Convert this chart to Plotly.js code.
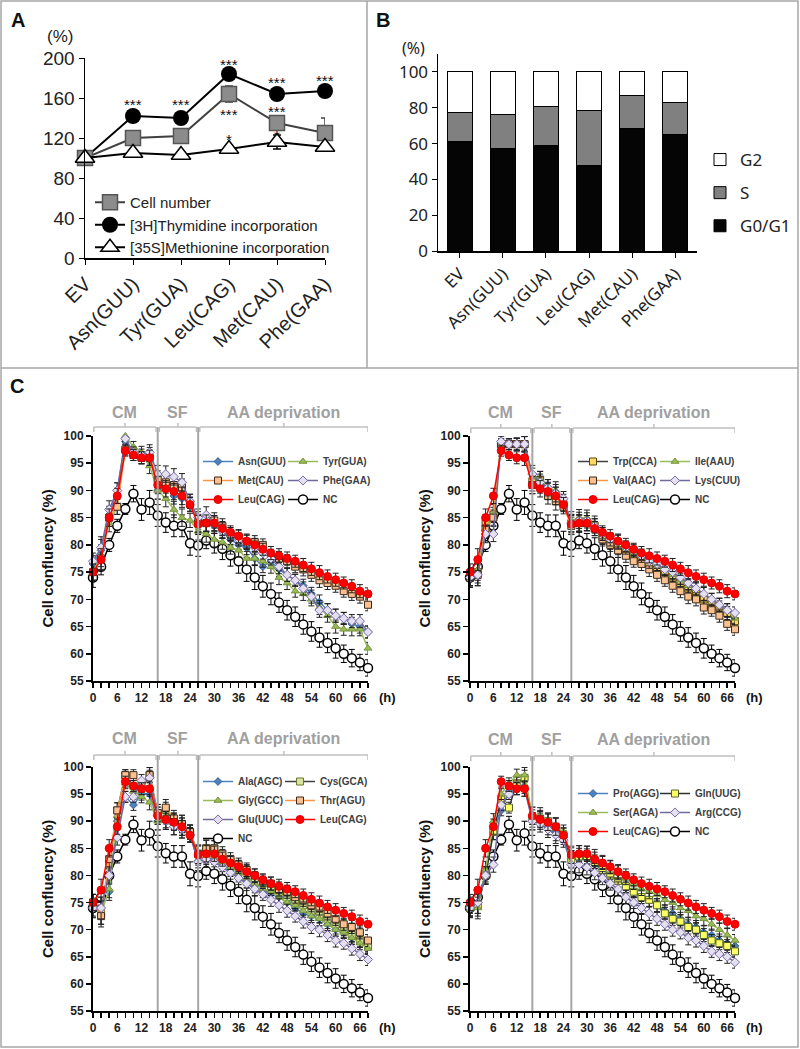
<!DOCTYPE html>
<html><head><meta charset="utf-8">
<script src="https://cdn.plot.ly/plotly-3.0.1.min.js"></script>
<style>html,body{margin:0;padding:0;background:#fff}#chart{width:800px;height:1049px}</style>
</head><body><div id="chart"></div>
<script>
// ---------- Panel A data ----------
const catsA = ['EV','Asn(GUU)','Tyr(GUA)','Leu(CAG)','Met(CAU)','Phe(GAA)'];
const cellNumber = [100,120,122,164,135,125];
const cellErr    = [2,4,3,8,4,15];
const thymidine  = [100,142,140,184,164,167];
const thyErr     = [2,3,3,3,3,3];
const methionine = [100,105,103,109,116,111];
const metErr     = [2,3,2,3,7,3];
const starX = ['Asn(GUU)','Tyr(GUA)','Leu(CAG)','Leu(CAG)','Leu(CAG)','Met(CAU)','Met(CAU)','Met(CAU)','Phe(GAA)'];
const starY = [154,154,194,144,119,176,147,123,178];
const starText = ['***','***','***','***','*','***','***','*','***'];

// ---------- Panel B data ----------
const catsB = ['EV','Asn(GUU)','Tyr(GUA)','Leu(CAG)','Met(CAU)','Phe(GAA)'];
const g0g1   = [61,57.5,59,48,68.5,65];
const sPhase = [16.5,19,21.5,30.5,18.5,18];
const g2     = [22.5,23.5,19.5,21.5,13,17];

// ---------- Panel C data ----------
const hours = [0,2,4,6,8,10,12,14,16,18,20,22,24,26,28,30,32,34,36,38,40,42,44,46,48,50,52,54,56,58,60,62,64,66,68];
const NC  = [74,76,80,83.5,86.6,89.4,86.5,87.8,85.4,84.1,83.5,83.5,80.3,79.9,80.8,80.3,79.3,78.1,77.0,75.5,74.0,72.4,71.0,69.4,68.0,66.8,65.4,64.1,63.0,62.0,61.0,60.0,59.2,58.4,57.4];
const ncErr = [1.8,1.5,1.2,1.2,1.0,1.5,2.0,2.2,2.0,1.8,2.0,2.0,2.2,2.0,1.5,1.8,2.0,2.0,2.2,2.2,2.2,2.0,2.0,1.8,1.8,1.8,1.8,1.8,1.8,1.8,1.8,1.6,1.6,1.5,1.5];
const Leu = [75,77.3,85,89,97.3,96.5,96,96,91,90.3,89.8,89,87.4,83.8,84,84,83,82.3,81.6,80.7,80,79.2,78.5,78,77.5,77,76.3,75.6,74.9,74.2,73.6,73,72.4,71.5,71.0];
const trtErr = [1.5,2.0,1.6,1.4,1.0,1.0,1.1,1.4,1.6,1.5,1.5,1.6,1.3,1.6,1.5,1.4,1.3,1.2,1.2,1.3,1.2,1.1,1.2,1.3,1.2,1.1,1.2,1.2,1.3,1.2,1.2,1.1,1.2,1.2,1.1];
// C1
const Asn = [76.5,79,85.5,90,99,97,96,96.5,90,91,89,88.5,88,84.5,84,83.5,82.5,81,80,79.5,77.5,76,77,75.5,74.5,73.5,72.5,71,69.5,68,67,66.5,65.5,65,64];
const Tyr = [75,78,84,87,100,98,97,94.5,90,88.5,86.5,85,84.5,82.5,82,81,80.5,79.5,79,77.5,77.5,77,76,74,73,71.5,71,70,68.5,67,65,64.5,64.5,64.5,61];
const Phe = [77,79.5,86.5,90,99.5,97,96.5,97,93,93,92.5,91.5,88,85,85.5,84,82.5,82,81,80.5,79.5,78.5,77.5,76,74.5,73.5,72,70.5,68,68,67,66.5,66,66,64];
const Met = [75,77.5,85,87,97.5,96.5,96,96,92,91.5,91,90.5,87.5,84,84,84.5,83.5,82,81.5,80.5,80.5,80,78,77.5,77,76,75.5,74.5,73.5,73,72.5,71.5,71,70.5,69];
// C2
const Trp = [74,75,84,85.5,98.5,98.5,98.5,98.5,91.5,92,90,89,87.5,84,84,84,83.5,81.5,80.5,79.5,79,78,77.5,76.5,75.5,75,74,73,72,71,70,69,68.5,67.5,66];
const Val = [74,74.5,83,85,98.5,98.5,98.5,98.5,91,91,89,88,87,83.5,84,84,83,81,80,79,78,77,76.5,75.5,74.5,73.5,72.5,71.5,70.5,70,68.5,68,67,65.5,64.5];
const Ile = [74,75.5,83,86,99,98.5,98.5,98.5,92.5,92,90.5,90,88,84.5,85,85,84,82,81,80.5,79.5,78.5,78,77,76,75.5,74.5,73.5,72.5,72,71,70,69,68,66.5];
const Lys = [74,74.5,82,82,99,98.5,98.5,98.5,93,91.5,90.5,89.5,88.5,84,84.5,84.5,83.5,82,81,80.5,79.5,79,78,77,76.5,75.5,75,74,73,72,71,70,69,68,67.5];
// C3
const Ala = [75,74,77,90,94.5,93,95,95,90,90,89,88.5,87.5,82.5,83,83,82,81,80,79,78,77,76.5,76,75,74,73,72.5,72,71,70,69.5,68.5,68,67];
const Gly = [75,73,77.5,91,97,95.5,94.5,93.5,90,91,90,89,88,83,83.5,83.5,82.5,81.5,80.5,79.5,78.5,77.5,77,76,75,74.5,73.5,72.5,72,71,70,69.5,68.5,67.5,66.5];
const Glu = [74,74,80,87,94.5,94.5,97.5,98,91,90,89,88.5,87.5,82.5,83,82.5,81.5,80.5,79.5,78.5,77.5,76.5,75.5,74.5,73.5,72.5,71.5,70.5,70,69,68,67.5,66.5,65.5,64.5];
const Cys = [75,73,82,92,98.5,96.5,96,98.5,91.5,92,90,89.5,88,84,85,85,83.5,82.5,81.5,80.5,79.5,78.5,77.5,77,76,75,74.5,73.5,72.5,72,71,70,69,68,67];
const Thr = [75,72.5,83,92,98.5,98.5,96.5,98.5,91.5,92.5,90.5,89.5,88,84,85,85,84,83,82,81,80,79,78.5,77.5,77,76,75.5,74.5,74,73,72,71,70.5,69.5,68];
// C4
const Pro = [74,75,80,88,92,95.5,96,96.5,90,90,89,88,87,83,83,83,82,81,80,79,78,77,76,75.5,74.5,73.5,73,72,71,70.5,69.5,69,68,67.5,67];
const Ser = [74.5,74,81,90,95,97,98.5,98.5,91,91,90,89,88,83.5,84,84,83.5,82.5,81.5,80.5,79.5,78.5,77.5,77,76.5,75.5,75,74,73.5,72.5,72,71,70,69,68];
const Gln = [74,74.5,80,88,94,92.5,97,98,90.5,90.5,90,89,87.5,83,83.5,83.5,82.5,81,80,79,78,77,76,75.5,74.5,73,72,71.5,70.5,70,69,68,67.5,67,66];
const Arg = [74,75,80,82,93,95,96,96,90,89.5,88.5,87.5,86.5,82,82,81.5,80.5,79.5,78.5,77.5,76,75,74,73,72,71,70,69.5,68.5,68,67,66,65.5,65,64];
const phaseNames = ['CM','SF','AA deprivation'];

// ---------- layout helpers ----------
const W = 800, H = 1049;
const px = x => x / W, py = y => 1 - y / H;
const FA = 'Liberation Sans, Arial, sans-serif';
const FB = 'Noto Sans, Open Sans, sans-serif';

const traces = [];
// Panel A
traces.push({type:'scatter',mode:'lines+markers',x:catsA,y:thymidine,name:'[3H]Thymidine incorporation',
  xaxis:'x',yaxis:'y',legend:'legend',legendrank:2,cliponaxis:false,
  line:{color:'#000',width:2},marker:{symbol:'circle',size:16,color:'#000'},
  error_y:{type:'data',array:thyErr,color:'#000',thickness:1.5,width:4}});
traces.push({type:'scatter',mode:'lines+markers',x:catsA,y:cellNumber,name:'Cell number',
  xaxis:'x',yaxis:'y',legend:'legend',legendrank:1,cliponaxis:false,
  line:{color:'#404040',width:2},marker:{symbol:'square',size:15,color:'#8c8c8c',line:{color:'#555',width:1.5}},
  error_y:{type:'data',array:cellErr,color:'#404040',thickness:1.5,width:4}});
traces.push({type:'scatter',mode:'lines+markers',x:catsA,y:methionine,name:'[35S]Methionine incorporation',
  xaxis:'x',yaxis:'y',legend:'legend',legendrank:3,cliponaxis:false,
  line:{color:'#000',width:2},marker:{symbol:'triangle-up',size:17,color:'#fff',line:{color:'#000',width:1.5}},
  error_y:{type:'data',array:metErr,color:'#000',thickness:1.5,width:4}});

// Panel B (legendrank puts G2 on top, G0/G1 at bottom)
[[g0g1,'G0/G1','#050505','gA',3],[sPhase,'S','#808080','gB',2],[g2,'G2','#ffffff','gC',1]].forEach(([v,n,c,g,r])=>{
  traces.push({type:'bar',x:catsB,y:v,name:n,xaxis:'x2',yaxis:'y2',legend:'legend2',legendgroup:g,legendrank:r,
    marker:{color:c,line:{color:'#000',width:1}}});
});

// Panel C styles
const STY = {
  blue:  {line:'#4f81bd', marker:{symbol:'diamond',size:6,color:'#4f81bd',line:{color:'#3a6496',width:1}}},
  green: {line:'#9bbb59', marker:{symbol:'triangle-up',size:7,color:'#9bbb59',line:{color:'#77933c',width:1}}},
  purple:{line:'#6f6a9e', marker:{symbol:'diamond',size:7,color:'#e4e0f0',line:{color:'#7a6aa8',width:1}}},
  orange:{line:'#f79646', marker:{symbol:'square',size:7,color:'#fac090',line:{color:'#3b2a1a',width:1}}},
  darkY: {line:'#404040', marker:{symbol:'square',size:7,color:'#ffd966',line:{color:'#5a4a10',width:1}}},
  darkG: {line:'#404040', marker:{symbol:'square',size:7,color:'#d8e4a0',line:{color:'#6b7a2a',width:1}}},
  darkL: {line:'#303030', marker:{symbol:'square',size:7,color:'#ffff66',line:{color:'#4f6228',width:1}}},
  red:   {line:'#ff0000', marker:{symbol:'circle',size:8,color:'#ff0000',line:{color:'#e00000',width:1}}},
  nc:    {line:'#000000', marker:{symbol:'circle',size:9,color:'#ffffff',line:{color:'#000',width:1.5}}}
};

function addSeries(xa, ya, lg, rank, name, y, sty, err) {
  const s = STY[sty];
  traces.push({type:'scatter',mode:'lines+markers',x:hours,y:y,name:name,xaxis:xa,yaxis:ya,
    legend:lg,legendrank:rank,cliponaxis:false,
    line:{color:s.line,width:1.5},marker:s.marker,
    error_y:{type:'data',array:err,color:sty==='nc'?'#000':'#222',thickness:1,width:3}});
}
const panels = [
  ['x3','y3','legend3','legend4',[['Asn(GUU)',Asn,'blue',1,1],['Tyr(GUA)',Tyr,'green',2,1],['Met(CAU)',Met,'orange',1,2],['Phe(GAA)',Phe,'purple',2,2]], 1, 2],
  ['x4','y4','legend5','legend6',[['Trp(CCA)',Trp,'darkY',1,1],['Ile(AAU)',Ile,'green',2,1],['Val(AAC)',Val,'orange',1,2],['Lys(CUU)',Lys,'purple',2,2]], 1, 2],
  ['x5','y5','legend7','legend8',[['Ala(AGC)',Ala,'blue',1,1],['Cys(GCA)',Cys,'darkG',2,1],['Gly(GCC)',Gly,'green',1,2],['Thr(AGU)',Thr,'orange',2,2],['Glu(UUC)',Glu,'purple',1,3]], 2, 1],
  ['x6','y6','legend9','legend10',[['Pro(AGG)',Pro,'blue',1,1],['Gln(UUG)',Gln,'darkL',2,1],['Ser(AGA)',Ser,'green',1,2],['Arg(CCG)',Arg,'purple',2,2]], 1, 2]
];
panels.forEach(([xa,ya,l1,l2,list,leuCol,ncCol])=>{
  addSeries(xa,ya,ncCol===1?l1:l2,ncCol===1?4:3,'NC',NC,'nc',ncErr);
  list.forEach(([n,d,s,c,r])=>addSeries(xa,ya,c===1?l1:l2,r,n,d,s,trtErr));
  addSeries(xa,ya,leuCol===1?l1:l2,3,'Leu(CAG)',Leu,'red',trtErr);
});

// ---------- axes ----------
const layout = {
  width:W,height:H,autosize:false,margin:{l:0,r:0,t:0,b:0},
  paper_bgcolor:'#fff',plot_bgcolor:'rgba(0,0,0,0)',
  barmode:'stack',bargap:0.42,showlegend:true,
  font:{family:FA,color:'#222'},
  shapes:[],annotations:[]
};
const baseAx = {showgrid:false,zeroline:false,showline:true,linecolor:'#000',fixedrange:true};
layout.xaxis = Object.assign({},baseAx,{domain:[px(85),px(325)],anchor:'y',type:'category',categoryarray:catsA,
  range:[0,5],ticks:'outside',ticklen:5,tickcolor:'#000',tickangle:-45,linewidth:1.5,
  tickfont:{family:FA,size:20,color:'#222'}});
layout.yaxis = Object.assign({},baseAx,{domain:[py(258),py(58)],anchor:'x',range:[0,200],dtick:40,
  ticks:'outside',ticklen:5,tickcolor:'#000',linewidth:1.5,tickfont:{family:FA,size:19,color:'#222'}});
layout.xaxis2 = Object.assign({},baseAx,{domain:[px(438),px(697)],anchor:'y2',type:'category',categoryarray:catsB,
  range:[-0.5,5.5],ticks:'outside',ticklen:5,tickcolor:'#000',tickangle:-45,linewidth:1.5,
  tickfont:{family:FB,size:17,color:'#222'}});
layout.yaxis2 = Object.assign({},baseAx,{domain:[py(251),py(54)],anchor:'x2',range:[0,110],dtick:20,
  ticks:'outside',ticklen:5,tickcolor:'#000',linewidth:1.5,tickfont:{family:FB,size:17,color:'#222'}});

const cGeom = [
  {xa:'x3',ya:'y3',x0:93,x1:368,yTop:436,yBot:681,br:427,txt:412},
  {xa:'x4',ya:'y4',x0:470,x1:735,yTop:436,yBot:681,br:428,txt:412},
  {xa:'x5',ya:'y5',x0:93,x1:368,yTop:767,yBot:1011,br:755,txt:738},
  {xa:'x6',ya:'y6',x0:470,x1:735,yTop:767,yBot:1011,br:756,txt:739}
];
cGeom.forEach(g=>{
  const xk = 'xaxis'+g.xa.slice(1), yk = 'yaxis'+g.ya.slice(1);
  layout[xk] = Object.assign({},baseAx,{domain:[px(g.x0),px(g.x1)],anchor:g.ya,range:[0,68],tick0:0,dtick:6,
    ticks:'outside',ticklen:5,tickwidth:1.5,tickcolor:'#000',linewidth:2,
    minor:{dtick:2,ticks:'outside',ticklen:5,tickcolor:'#000',tickwidth:1.5},
    tickfont:{family:FA,size:12,color:'#222',weight:'bold'}});
  layout[yk] = Object.assign({},baseAx,{domain:[py(g.yBot),py(g.yTop)],anchor:g.xa,range:[55,100],dtick:5,
    ticks:'outside',ticklen:5,tickwidth:1.5,tickcolor:'#000',linewidth:2,
    tickfont:{family:FA,size:12,color:'#222',weight:'bold'}});
  const h = g.yBot - g.yTop;
  const dom = p => (g.yBot - p) / h;
  const yr = g.ya + ' domain';
  [16,26].forEach(t=>layout.shapes.push({type:'line',xref:g.xa,yref:yr,x0:t,x1:t,y0:0,y1:dom(g.br),
    line:{color:'#a6a6a6',width:2}}));
  [[0.2,15.6],[16.4,25.6],[26.4,68]].forEach(([a,b],i)=>{
    const L = {color:'#bfbfbf',width:1.5};
    layout.shapes.push({type:'line',xref:g.xa,yref:yr,x0:a,x1:b,y0:dom(g.br),y1:dom(g.br),line:L});
    layout.shapes.push({type:'line',xref:g.xa,yref:yr,x0:a,x1:a,y0:dom(g.br),y1:dom(g.br+5),line:L});
    layout.shapes.push({type:'line',xref:g.xa,yref:yr,x0:b,x1:b,y0:dom(g.br),y1:dom(g.br+5),line:L});
    layout.shapes.push({type:'line',xref:g.xa,yref:yr,x0:(a+b)/2,x1:(a+b)/2,y0:dom(g.br),y1:dom(g.br-4),line:L});
    layout.annotations.push({xref:g.xa,yref:'paper',x:(a+b)/2,y:py(g.txt),text:phaseNames[i],showarrow:false,
      xanchor:'center',yanchor:'middle',font:{family:FA,size:16,color:'#a0a0a0',weight:'bold'}});
  });
  layout.annotations.push({xref:'paper',yref:'paper',x:px(g.x0-46),y:py((g.yTop+g.yBot)/2),text:'Cell confluency (%)',
    textangle:-90,showarrow:false,xanchor:'center',yanchor:'middle',font:{family:FA,size:15,color:'#111',weight:'bold'}});
  layout.annotations.push({xref:'paper',yref:'paper',x:px(g.x1+19),y:py(g.yBot+16),text:'(h)',showarrow:false,
    xanchor:'center',yanchor:'middle',font:{family:FA,size:13,color:'#111',weight:'bold'}});
});

// ---------- legends ----------
const noBg = {bgcolor:'rgba(0,0,0,0)',borderwidth:0,xanchor:'left',yanchor:'top',itemclick:false,itemdoubleclick:false};
layout.legend = Object.assign({},noBg,{x:px(90),y:py(186),font:{family:FA,size:15,color:'#222'},tracegroupgap:0});
layout.legend2 = Object.assign({},noBg,{x:px(700),y:py(142),traceorder:'grouped',tracegroupgap:8,
  font:{family:FB,size:17,color:'#222'}});
const cLegFont = {family:FA,size:10,color:'#404040',weight:'bold'};
const cLeg = [[198,283,447],[573,655,447],[198,280,767],[573,655,779]];
cLeg.forEach(([a,b,t],i)=>{
  layout['legend'+(3+2*i)] = Object.assign({},noBg,{x:px(a),y:py(t),font:cLegFont,tracegroupgap:0,itemwidth:30});
  layout['legend'+(4+2*i)] = Object.assign({},noBg,{x:px(b),y:py(t),font:cLegFont,tracegroupgap:0,itemwidth:30});
});

// ---------- frame & labels ----------
const FR = {color:'#a6a6a6',width:1.5};
layout.shapes.push({type:'rect',xref:'paper',yref:'paper',x0:px(1),x1:px(798),y0:py(1047),y1:py(1),line:FR});
layout.shapes.push({type:'line',xref:'paper',yref:'paper',x0:px(367),x1:px(367),y0:py(368),y1:py(1),line:FR});
layout.shapes.push({type:'line',xref:'paper',yref:'paper',x0:px(1),x1:px(798),y0:py(368),y1:py(368),line:FR});
[['A',18,20],['B',383,20],['C',17,386]].forEach(([t,x,y])=>layout.annotations.push({xref:'paper',yref:'paper',
  x:px(x),y:py(y),text:t,showarrow:false,xanchor:'center',yanchor:'middle',font:{family:FA,size:20,color:'#111',weight:'bold'}}));
layout.annotations.push({xref:'paper',yref:'paper',x:px(60),y:py(37),text:'(%)',showarrow:false,
  xanchor:'center',yanchor:'middle',font:{family:FA,size:17,color:'#222'}});
layout.annotations.push({xref:'paper',yref:'paper',x:px(413),y:py(48),text:'(%)',showarrow:false,
  xanchor:'center',yanchor:'middle',font:{family:FB,size:16,color:'#222'}});
starX.forEach((x,i)=>layout.annotations.push({xref:'x',yref:'y',x:x,y:starY[i],text:starText[i],showarrow:false,
  xanchor:'center',yanchor:'middle',font:{family:FA,size:15,color:'#111'}}));

Plotly.newPlot('chart',traces,layout,{staticPlot:true,displayModeBar:false});
</script></body></html>
